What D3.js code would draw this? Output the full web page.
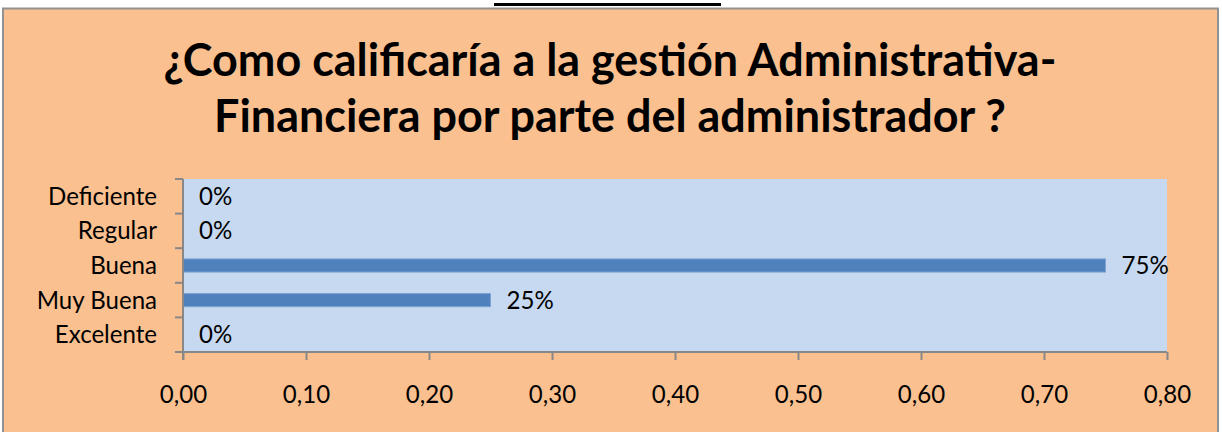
<!DOCTYPE html>
<html>
<head>
<meta charset="utf-8">
<script src="https://cdn.jsdelivr.net/npm/d3@7"></script>
<style>
  html, body { margin: 0; padding: 0; background: #ffffff; }
  svg { display: block; }
</style>
</head>
<body>
<svg id="chart" width="1222" height="432"></svg>
<script>
// ---- data ----
const categories = ["Deficiente", "Regular", "Buena", "Muy Buena", "Excelente"];
const values = [0, 0, 0.75, 0.25, 0];
const xTicks = [0, 0.1, 0.2, 0.3, 0.4, 0.5, 0.6, 0.7, 0.8];
const titleLines = ["¿Como calificaría a la gestión Administrativa-", "Financiera por parte del administrador ?"];

// ---- layout ----
const W = 1222, H = 432;
const plot = { left: 183, right: 1167, top: 179, bottom: 352 };
const FONT = "Lato, 'Open Sans', sans-serif";

const svg = d3.select("#chart");

// page frame
svg.append("rect").attr("x", 0).attr("y", 0).attr("width", W).attr("height", H).attr("fill", "#ffffff");
svg.append("rect").attr("x", 494).attr("y", 3).attr("width", 227).attr("height", 3).attr("fill", "#000000");
svg.append("rect")
  .attr("x", 3).attr("y", 8.5).attr("width", 1215).attr("height", 440)
  .attr("fill", "#FAC090").attr("stroke", "#929292").attr("stroke-width", 2);

// title: one common size, fitted so the second line spans ~788px
const tmp = svg.append("text").attr("font-family", FONT).attr("font-weight", "bold")
  .attr("font-size", 40).text(titleLines[1]);
const titleSize = 40 * 792 / tmp.node().getComputedTextLength();
tmp.remove();
const titleY = [76, 132];
titleLines.forEach((t, i) => {
  svg.append("text")
    .attr("x", 610).attr("y", titleY[i])
    .attr("text-anchor", "middle")
    .attr("font-family", FONT).attr("font-weight", "bold")
    .attr("font-size", titleSize)
    .attr("fill", "#000000")
    .text(t);
});

// scales
const x = d3.scaleLinear().domain([0, 0.8]).range([plot.left, plot.right]);
const y = d3.scaleBand().domain(categories).range([plot.top, plot.bottom])
  .paddingInner(0.62).paddingOuter(0.31);

// plot area
svg.append("rect")
  .attr("x", plot.left).attr("y", plot.top)
  .attr("width", plot.right - plot.left).attr("height", plot.bottom - plot.top)
  .attr("fill", "#C6D9F1");

// bars
svg.selectAll("rect.bar").data(values).join("rect")
  .attr("class", "bar")
  .attr("x", x(0))
  .attr("y", (d, i) => y(categories[i]))
  .attr("width", d => Math.max(0, x(d) - x(0)))
  .attr("height", y.bandwidth())
  .attr("fill", "#4F81BD")
  .attr("stroke", d => d > 0 ? "#7DA2D2" : "none")
  .attr("stroke-width", 1);

// axis label size
const labelSize = (() => {
  const t = svg.append("text").attr("font-family", FONT).attr("font-size", 24).text("Deficiente");
  const w = t.node().getComputedTextLength();
  t.remove();
  return 24 * 109 / w;
})();

// y axis: line, boundary ticks, labels
const axisColor = "#888888";
const step = y.step();
const y0 = y.range()[0];
svg.append("line")
  .attr("x1", plot.left).attr("x2", plot.left)
  .attr("y1", plot.top).attr("y2", plot.bottom + 8)
  .attr("stroke", axisColor).attr("stroke-width", 2);
d3.range(categories.length + 1).forEach(i => {
  svg.append("line")
    .attr("x1", plot.left - 8).attr("x2", plot.left)
    .attr("y1", y0 + i * step).attr("y2", y0 + i * step)
    .attr("stroke", axisColor).attr("stroke-width", 2);
});
svg.selectAll("text.cat").data(categories).join("text")
  .attr("class", "cat")
  .attr("x", 157)
  .attr("y", d => y(d) + y.bandwidth() / 2)
  .attr("dy", "0.35em")
  .attr("text-anchor", "end")
  .attr("font-family", FONT).attr("font-size", labelSize)
  .attr("fill", "#000000")
  .text(d => d);

// x axis
const locale = d3.formatLocale({ decimal: ",", thousands: ".", grouping: [3], currency: ["", "€"] });
const fmt = locale.format(".2f");
const xAxis = d3.axisBottom(x).tickValues(xTicks).tickSize(8).tickSizeOuter(0).tickFormat(fmt);
const gx = svg.append("g").attr("transform", `translate(0,${plot.bottom})`).call(xAxis);
gx.select(".domain").attr("stroke", axisColor).attr("stroke-width", 2)
  .attr("d", `M${plot.left - 8},0H${plot.right}`);
gx.selectAll(".tick line").attr("stroke", axisColor).attr("stroke-width", 2);
gx.selectAll(".tick text")
  .attr("y", 43).attr("dy", "0.35em")
  .attr("font-family", FONT).attr("font-size", labelSize)
  .attr("fill", "#000000");

// data labels
const pct = d3.format(".0%");
svg.selectAll("text.val").data(values).join("text")
  .attr("class", "val")
  .attr("x", d => x(d) + 16)
  .attr("y", (d, i) => y(categories[i]) + y.bandwidth() / 2)
  .attr("dy", "0.35em")
  .attr("font-family", FONT).attr("font-size", labelSize)
  .attr("fill", "#000000")
  .text(d => pct(d));
</script>
</body>
</html>
